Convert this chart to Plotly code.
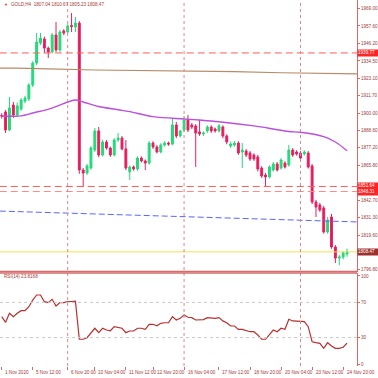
import plotly.graph_objects as go

# ---------------- data ----------------
bar_open = [1898.5, 1900.8, 1888.9, 1905.4, 1898.8, 1902.8, 1908.0, 1909.4, 1918.6, 1933.1,
            1946.3, 1949.0, 1943.0, 1940.4, 1951.6, 1941.7, 1954.3, 1953.6, 1957.9, 1956.9,
            1959.5, 1862.5, 1860.5, 1863.8, 1875.7, 1888.3, 1872.4, 1881.0, 1877.0, 1872.4,
            1882.3, 1883.6, 1876.4, 1861.2, 1864.5, 1863.2, 1870.4, 1868.5, 1867.1, 1880.3,
            1877.7, 1874.4, 1879.0, 1880.3, 1879.6, 1892.2, 1885.0, 1888.9, 1895.5, 1892.2,
            1891.6, 1887.6, 1886.3, 1888.3, 1890.9, 1889.6, 1888.3, 1890.9, 1885.0, 1878.4,
            1879.0, 1880.3, 1874.4, 1875.0, 1873.7, 1872.4, 1871.1, 1863.8, 1859.2, 1857.9,
            1862.5, 1866.5, 1863.8, 1867.1, 1865.8, 1875.7, 1874.4, 1873.7, 1873.1, 1873.7,
            1865.2, 1841.4, 1839.4, 1837.4, 1821.6, 1831.5, 1811.7, 1804.4, 1805.1, 1807.04]
bar_high = [1900.0, 1902.1, 1910.7, 1907.5, 1907.0, 1910.0, 1911.5, 1919.8, 1934.3, 1952.9,
            1952.9, 1950.5, 1944.0, 1952.9, 1960.2, 1955.0, 1955.5, 1958.8, 1966.1, 1963.5,
            1960.8, 1863.8, 1866.5, 1878.3, 1890.2, 1890.9, 1882.5, 1882.3, 1878.0, 1883.5,
            1886.9, 1884.9, 1882.3, 1865.5, 1865.5, 1871.5, 1871.5, 1869.5, 1881.5, 1881.5,
            1878.8, 1880.2, 1881.5, 1881.2, 1896.2, 1894.2, 1889.0, 1898.2, 1898.8, 1893.5,
            1892.8, 1895.5, 1888.0, 1892.0, 1892.0, 1890.5, 1893.0, 1892.0, 1886.0, 1881.2,
            1881.5, 1881.5, 1880.3, 1876.3, 1875.0, 1873.5, 1872.5, 1865.0, 1860.5, 1865.5,
            1867.8, 1867.8, 1870.3, 1868.3, 1879.0, 1877.0, 1875.5, 1875.0, 1875.5, 1875.0,
            1866.5, 1842.8, 1840.8, 1838.8, 1831.5, 1833.5, 1813.0, 1806.5, 1808.8, 1810.67]
bar_low = [1896.5, 1886.9, 1888.2, 1896.8, 1897.5, 1901.5, 1906.5, 1908.0, 1917.3, 1931.8,
           1945.0, 1939.7, 1936.4, 1939.5, 1940.5, 1940.5, 1951.5, 1952.5, 1953.6, 1953.6,
           1860.0, 1851.3, 1859.3, 1862.8, 1874.5, 1871.0, 1871.5, 1876.0, 1871.2, 1871.5,
           1881.0, 1875.5, 1862.5, 1855.9, 1862.0, 1862.0, 1867.5, 1862.5, 1866.0, 1876.5,
           1873.5, 1873.5, 1878.0, 1878.5, 1878.8, 1883.6, 1884.0, 1887.5, 1887.5, 1889.5,
           1864.5, 1885.0, 1885.0, 1887.0, 1887.0, 1887.2, 1887.2, 1883.5, 1879.5, 1877.0,
           1878.0, 1872.5, 1863.8, 1871.0, 1868.5, 1868.5, 1861.5, 1857.3, 1851.9, 1857.0,
           1861.5, 1861.5, 1862.8, 1863.5, 1864.8, 1871.2, 1872.0, 1869.0, 1872.0, 1863.5,
           1840.0, 1831.5, 1834.8, 1820.5, 1820.5, 1810.5, 1801.1, 1799.8, 1803.5, 1805.23]
bar_close = [1898.1, 1888.9, 1903.4, 1898.8, 1904.8, 1908.7, 1910.0, 1918.6, 1933.1, 1947.0,
             1949.6, 1943.0, 1940.4, 1951.6, 1941.7, 1953.6, 1952.9, 1957.6, 1957.2, 1959.5,
             1862.5, 1860.5, 1865.2, 1877.0, 1888.3, 1872.4, 1881.0, 1877.0, 1872.4, 1882.3,
             1883.6, 1876.4, 1863.8, 1864.5, 1863.2, 1870.4, 1868.5, 1867.1, 1880.3, 1877.7,
             1874.4, 1879.0, 1880.3, 1879.6, 1892.2, 1885.0, 1888.3, 1895.5, 1888.9, 1890.9,
             1886.9, 1886.3, 1886.9, 1890.9, 1888.3, 1888.3, 1891.6, 1885.0, 1881.0, 1879.7,
             1880.3, 1873.7, 1875.7, 1872.4, 1869.8, 1869.8, 1863.2, 1858.6, 1857.9, 1864.5,
             1866.5, 1862.5, 1869.1, 1864.5, 1875.7, 1872.4, 1873.1, 1870.4, 1874.4, 1864.5,
             1841.4, 1838.1, 1836.1, 1821.6, 1829.5, 1811.7, 1804.4, 1805.1, 1807.8, 1808.47]
rsi_values = [53.8, 47.4, 57.6, 53.8, 57.6, 60.6, 60.6, 65.1, 72.7, 78.4,
              78.4, 70.8, 69.7, 73.5, 65.9, 69.7, 69.7, 70.8, 71.0, 71.3,
              28.1, 28.1, 29.9, 34.9, 40.6, 35.6, 40.6, 38.6, 37.8, 42.4,
              41.7, 40.6, 35.6, 37.5, 37.5, 40.6, 40.6, 39.4, 45.1, 45.1,
              43.5, 46.2, 46.9, 46.9, 53.8, 50.0, 51.9, 55.7, 53.1, 52.7,
              50.0, 50.0, 50.5, 52.7, 51.9, 51.9, 52.7, 49.0, 46.9, 43.2,
              43.2, 39.4, 39.4, 38.0, 36.7, 36.7, 33.0, 28.1, 28.1, 33.5,
              38.6, 36.7, 40.6, 39.5, 50.8, 48.9, 48.5, 48.1, 48.1, 42.4,
              25.3, 24.2, 23.5, 17.8, 24.2, 20.5, 17.8, 17.8, 19.0, 23.8]
ma_purple_bars = [0, 5, 8, 13, 19, 21, 25, 30, 33, 39, 47, 51, 56, 65, 70, 74, 77, 83, 86, 89]
ma_purple_values = [1898.2, 1898.2, 1900.1, 1903.4, 1908.7, 1907.4, 1904.4, 1902.3, 1901.0, 1897.7,
                    1896.2, 1895.5, 1894.4, 1891.6, 1889.6, 1887.9, 1887.4, 1884.5, 1881.0, 1875.2]
ma_brown_bars = [-0.5, 4, 12, 24, 60, 72, 92]
ma_brown_values = [1929.8, 1929.8, 1929.3, 1928.5, 1927.5, 1926.7, 1925.9]
trend_blue_bars = [-0.5, 92]
trend_blue_values = [1835.4, 1828.2]
red_levels = [1939.77, 1851.64, 1848.31]
bid_price = 1808.47
separator_bars = [17, 47, 77]
price_ticks = [1969.00, 1957.60, 1946.20, 1934.50, 1923.10, 1911.70, 1900.00, 1888.60,
               1877.20, 1865.80, 1842.70, 1831.30, 1819.60, 1796.80]
rsi_ticks = [0, 30, 70, 100]
time_tick_bars = [0, 8, 17, 24, 32, 39, 47, 56, 64, 72, 80, 88]
time_tick_labels = ["1 Nov 2020", "5 Nov 12:00", "6 Nov 20:00", "10 Nov 04:00", "11 Nov 12:00",
                    "12 Nov 20:00", "16 Nov 04:00", "17 Nov 12:00", "18 Nov 20:00",
                    "20 Nov 04:00", "23 Nov 12:00", "24 Nov 20:00"]
title_text = "GOLD,H4  1807.04 1810.67 1805.23 1808.47"
rsi_title = "RSI(14) 23.8168"

# ---------------- style ----------------
FONT = "Liberation Sans, Arial, sans-serif"
FS = 4.6
TXT = "#a23a3a"
AX = "#d86a6a"
W, H = 378, 378
ML, MR, MT, MB = 0, 21, 0, 12
PH = H - MT - MB
main_bottom_px = 271.5
rsi_top_px = 273.0

bars = list(range(len(bar_close)))

fig = go.Figure()

fig.add_trace(go.Scatter(x=ma_brown_bars, y=ma_brown_values, mode="lines",
                         line=dict(color="#b98a66", width=1.2), hoverinfo="skip",
                         xaxis="x", yaxis="y"))
fig.add_trace(go.Scatter(x=trend_blue_bars, y=trend_blue_values, mode="lines",
                         line=dict(color="#5566ff", width=1, dash="6px,3px"), hoverinfo="skip",
                         xaxis="x", yaxis="y"))
for lv, col in zip(red_levels, ["#ff5a5a", "#ff5a5a", "#ff8a8a"]):
    fig.add_trace(go.Scatter(x=[-0.5, 92], y=[lv, lv], mode="lines",
                             line=dict(color=col, width=1, dash="7px,4px"), hoverinfo="skip",
                             xaxis="x", yaxis="y"))
fig.add_trace(go.Scatter(x=[-0.5, 92], y=[bid_price, bid_price], mode="lines",
                         line=dict(color="#f2e04a", width=1), hoverinfo="skip",
                         xaxis="x", yaxis="y"))
fig.add_trace(go.Scatter(x=ma_purple_bars, y=ma_purple_values, mode="lines",
                         line=dict(color="#b94fe0", width=1.4, shape="spline"), hoverinfo="skip",
                         xaxis="x", yaxis="y"))
fig.add_trace(go.Candlestick(
    x=bars, open=bar_open, high=bar_high, low=bar_low, close=bar_close,
    increasing=dict(line=dict(color="#22d879", width=1), fillcolor="#1fe07a"),
    decreasing=dict(line=dict(color="#e8205f", width=1), fillcolor="#e8175d"),
    whiskerwidth=0, xaxis="x", yaxis="y"))
fig.add_trace(go.Scatter(x=bars, y=rsi_values, mode="lines",
                         line=dict(color="#b8302f", width=1.2), hoverinfo="skip",
                         xaxis="x", yaxis="y2"))

shapes = []
for sb in separator_bars:
    shapes.append(dict(type="line", xref="x", yref="paper", x0=sb, x1=sb, y0=0, y1=1,
                       line=dict(color="#d68a8a", width=1, dash="dot")))
for lv in (70, 30):
    shapes.append(dict(type="line", xref="x domain", yref="y2", x0=0, x1=1, y0=lv, y1=lv,
                       line=dict(color="#c8c8c8", width=1, dash="dot")))
shapes.append(dict(type="line", xref="paper", yref="y domain", x0=0, x1=1, y0=0, y1=0,
                   line=dict(color=AX, width=1.5)))
shapes.append(dict(type="line", xref="paper", yref="y2 domain", x0=0, x1=1, y0=1, y1=1,
                   line=dict(color=AX, width=1.5)))

ann = []
ann.append(dict(text=title_text, xref="paper", yref="paper", x=0, y=1, xanchor="left",
                yanchor="middle", xshift=8.5, yshift=-4.5, showarrow=False,
                font=dict(family=FONT, size=FS, color=TXT)))
ann.append(dict(text="▼", xref="paper", yref="paper", x=0, y=1, xanchor="left",
                yanchor="middle", xshift=1.5, yshift=-4.5, showarrow=False,
                font=dict(family=FONT, size=4, color="#e02020")))
ann.append(dict(text=rsi_title, xref="paper", yref="y2 domain", x=0, y=1, xanchor="left",
                yanchor="middle", xshift=2, yshift=-3.5, showarrow=False,
                font=dict(family=FONT, size=FS, color=TXT)))
for tb, tl in zip(time_tick_bars, time_tick_labels):
    ann.append(dict(text=tl, xref="x", yref="paper", x=tb, y=0, xanchor="left",
                    yanchor="middle", xshift=1.5, yshift=-6.7, showarrow=False,
                    font=dict(family=FONT, size=FS, color=TXT)))
for lv in red_levels:
    ann.append(dict(text=f"{lv:.2f}", xref="paper", yref="y", x=1, y=lv, xanchor="left",
                    yanchor="middle", showarrow=False, bgcolor="#ff2424", borderpad=0,
                    width=20, height=5.5, align="left",
                    font=dict(family=FONT, size=FS, color="white")))
ann.append(dict(text=f"{bid_price:.2f}", xref="paper", yref="y", x=1, y=bid_price,
                xanchor="left", yanchor="middle", showarrow=False, bgcolor="#9e2f2b",
                borderpad=0, width=20, height=5.5, align="left",
                font=dict(family=FONT, size=FS, color="white")))

main_dom = [1 - main_bottom_px / PH, 1]
rsi_dom = [0, 1 - rsi_top_px / PH]

fig.update_layout(
    template="none",
    width=W, height=H, margin=dict(l=ML, r=MR, t=MT, b=MB, pad=0, autoexpand=False),
    paper_bgcolor="white", plot_bgcolor="white", showlegend=False,
    xaxis=dict(range=[-0.44, 91.57], anchor="y2", showgrid=False, zeroline=False,
               showline=False, tickvals=time_tick_bars, ticks="outside", ticklen=3,
               tickcolor=AX, showticklabels=False, rangeslider=dict(visible=False),
               fixedrange=True, automargin=False),
    yaxis=dict(domain=main_dom, range=[1795.51, 1974.72], side="right", showgrid=False,
               zeroline=False, showline=True, linecolor=AX, linewidth=1, automargin=False,
               tickvals=price_ticks, ticktext=[f"{v:.2f}" for v in price_ticks],
               ticks="outside", ticklen=2, tickcolor=AX,
               tickfont=dict(family=FONT, size=FS, color=TXT)),
    yaxis2=dict(domain=rsi_dom, range=[-2.27, 103.4], side="right", showgrid=False,
                zeroline=False, showline=True, linecolor=AX, linewidth=1, automargin=False,
                tickvals=rsi_ticks, ticks="outside", ticklen=2, tickcolor=AX,
                tickfont=dict(family=FONT, size=FS, color=TXT)),
    shapes=shapes, annotations=ann,
)

fig.write_html("out.html", config={"displayModeBar": False, "staticPlot": True},
               post_script="document.body.style.margin='0';document.body.style.padding='0';")
